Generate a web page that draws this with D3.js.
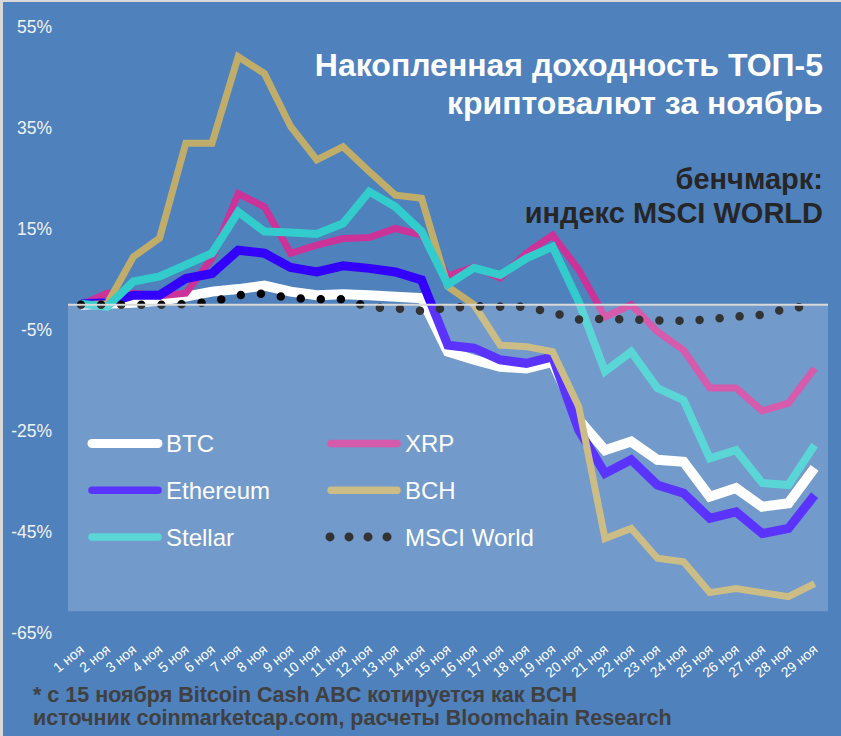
<!DOCTYPE html>
<html>
<head>
<meta charset="utf-8">
<script src="https://cdn.jsdelivr.net/npm/d3@7"></script>
<style>
  html, body { margin: 0; padding: 0; background: #ffffff; }
  svg { display: block; font-family: "Liberation Sans", Arial, sans-serif; }
</style>
</head>
<body>
<div id="chart"></div>
<script>
const days = d3.range(1, 30).map((d) => `${d} ноя`);

const btc = [0, 0.2, 0.4, 0.8, 1.6, 2.6, 3.1, 3.8, 2.6, 1.9, 2.1, 1.9, 1.6, 1.3,
  -9.3, -10.9, -12.3, -12.6, -11.3, -22.8, -28.8, -27.1, -30.7, -31.1, -38, -36.3, -40, -39.3, -32.3];
const ethereum = [0.2, 0.4, 1.9, 1.9, 5.2, 6.2, 10.8, 10.2, 7.4, 6.5, 7.7, 7.2, 6.5, 4.9,
  -8, -8.6, -10.9, -11.6, -10.3, -24.8, -33.4, -30.7, -35.7, -37.3, -42.3, -41, -45.3, -44.3, -37.7];
const xrp = [0, 2.3, 2.3, 1.8, 2.3, 9.2, 22, 19.4, 10.2, 11.8, 13.1, 13.3, 15.1, 13.8,
  5.7, 7.5, 5.3, 10.2, 13.8, 6.9, -2.4, 0, -5.3, -9, -16.5, -16.5, -21, -19.5, -12.6];
const bch = [0, 0.2, 9.5, 13.2, 32, 32, 49.1, 45.8, 35.3, 28.7, 31.3, 26.4, 21.7, 21.1,
  3.6, 0, -8, -8.3, -9.3, -20.2, -46.3, -44.3, -50.2, -50.9, -57, -56.2, -57, -57.8, -55.2];
const stellar = [0.2, -0.4, 4.6, 5.6, 7.9, 10.2, 18.4, 14.5, 14.3, 14.0, 16.1, 22.4, 19.4, 14.5,
  4.0, 7.3, 5.9, 9.2, 11.5, 0.6, -13.2, -9.3, -16.5, -18.9, -30.4, -28.8, -35.3, -35.7, -27.8];
const msci = [0, 0, 0, 0, 0.1, 0.6, 1.9, 2.2, 1.3, 1.1, 1.1, -0.5, -0.7, -1.2,
  -0.6, -0.35, -0.4, -0.4, -1.6, -2.9, -2.8, -2.9, -3.1, -3.2, -2.9, -2.35, -2.0, -0.7, -0.2];

const yTicks = [55, 35, 15, -5, -25, -45, -65];

const titleLines = ["Накопленная доходность ТОП-5", "криптовалют за ноябрь"];
const benchLines = ["бенчмарк:", "индекс MSCI WORLD"];
const noteLines = [
  "* с 15 ноября Bitcoin Cash ABC котируется как BCH",
  "источник coinmarketcap.com, расчеты Bloomchain Research",
];

// drawing order follows the original (later series on top)
const series = [
  { name: "BTC", values: btc, color: "#ffffff", width: 10 },
  { name: "XRP", values: xrp, color: "#cc3399", width: 7 },
  { name: "Ethereum", values: ethereum, color: "#3300ff", width: 9 },
  { name: "BCH", values: bch, color: "#c0ad6a", width: 7 },
  { name: "Stellar", values: stellar, color: "#33cccc", width: 8 },
  { name: "MSCI World", values: msci, color: "#000000", width: 8.5, dotted: true },
];

const width = 841;
const height = 736;

const svg = d3.select("#chart")
  .append("svg")
  .attr("width", width)
  .attr("height", height);

svg.append("rect")
  .attr("x", 0).attr("y", 0)
  .attr("width", width).attr("height", height)
  .attr("fill", "#4f81bd");

// light frame on top and left edges
svg.append("rect").attr("x", 0).attr("y", 0).attr("width", width).attr("height", 2).attr("fill", "#d9d9d9");
svg.append("rect").attr("x", 0).attr("y", 0).attr("width", 3).attr("height", height).attr("fill", "#d9d9d9");

const x = d3.scalePoint().domain(days).range([81, 814.6]);
const y = d3.scaleLinear().domain([-65, 55]).range([633, 27]);

// y tick labels
svg.append("g")
  .selectAll("text")
  .data(yTicks)
  .join("text")
  .attr("x", 52)
  .attr("y", (d) => y(d))
  .attr("dy", "0.35em")
  .attr("text-anchor", "end")
  .attr("font-size", 17.5)
  .attr("fill", "#f2f2f2")
  .text((d) => `${d}%`);

// x tick labels, rotated
svg.append("g")
  .selectAll("text")
  .data(days)
  .join("text")
  .attr("transform", (d) => `translate(${x(d) + 4},${651}) rotate(-40)`)
  .attr("text-anchor", "end")
  .attr("font-size", 14)
  .attr("fill", "#ffffff")
  .text((d) => d);

const line = d3.line()
  .x((d, i) => x(days[i]))
  .y((d) => y(d));

const linesG = svg.append("g");
series.forEach((s) => {
  const p = linesG.append("path")
    .datum(s.values)
    .attr("d", line)
    .attr("fill", "none")
    .attr("stroke", s.color)
    .attr("stroke-width", s.width)
    .attr("stroke-linejoin", "miter");
  if (s.dotted) {
    p.attr("stroke-dasharray", "0 20.1").attr("stroke-linecap", "round");
  }
});

// legend (sits under the translucent panel)
const legendItems = [
  { s: series[0], col: 0, row: 0 },
  { s: series[1], col: 1, row: 0 },
  { s: series[2], col: 0, row: 1 },
  { s: series[3], col: 1, row: 1 },
  { s: series[4], col: 0, row: 2 },
  { s: series[5], col: 1, row: 2 },
];
const legendG = svg.append("g");
legendItems.forEach(({ s, col, row }) => {
  const lx = col === 0 ? 88 : 327;
  const ly = 443.5 + row * 46.7;
  if (s.dotted) {
    legendG.selectAll(null)
      .data([0, 1, 2, 3])
      .join("circle")
      .attr("cx", (k) => lx + 3 + k * 19)
      .attr("cy", ly)
      .attr("r", 4.5)
      .attr("fill", s.color);
  } else {
    legendG.append("line")
      .attr("x1", lx + 4).attr("x2", lx + 70)
      .attr("y1", ly).attr("y2", ly)
      .attr("stroke", s.color)
      .attr("stroke-width", s.name === "BTC" ? 9 : 7.5)
      .attr("stroke-linecap", "round");
  }
  legendG.append("text")
    .attr("x", col === 0 ? 166 : 405)
    .attr("y", ly)
    .attr("dy", "0.36em")
    .attr("font-size", 24)
    .attr("fill", "#ffffff")
    .text(s.name);
});

// translucent panel below zero
svg.append("rect")
  .attr("x", 68)
  .attr("y", y(0))
  .attr("width", 828 - 68)
  .attr("height", y(-60.7) - y(0))
  .attr("fill", "#ffffff")
  .attr("fill-opacity", 0.2);

svg.append("line")
  .attr("x1", 68).attr("x2", 828)
  .attr("y1", y(0)).attr("y2", y(0))
  .attr("stroke", "#d9d9d9")
  .attr("stroke-width", 2);

// titles
svg.append("g")
  .selectAll("text")
  .data(titleLines)
  .join("text")
  .attr("x", 823)
  .attr("y", (d, i) => 76 + i * 38)
  .attr("text-anchor", "end")
  .attr("font-size", 32)
  .attr("font-weight", "bold")
  .attr("fill", "#ffffff")
  .text((d) => d);

svg.append("g")
  .selectAll("text")
  .data(benchLines)
  .join("text")
  .attr("x", 823)
  .attr("y", (d, i) => 189 + i * 34)
  .attr("text-anchor", "end")
  .attr("font-size", 29)
  .attr("font-weight", "bold")
  .attr("fill", "#262626")
  .text((d) => d);

svg.append("g")
  .selectAll("text")
  .data(noteLines)
  .join("text")
  .attr("x", 33)
  .attr("y", (d, i) => 702 + i * 23)
  .attr("font-size", 21.5)
  .attr("font-weight", "bold")
  .attr("fill", "#404040")
  .text((d) => d);
</script>
</body>
</html>
